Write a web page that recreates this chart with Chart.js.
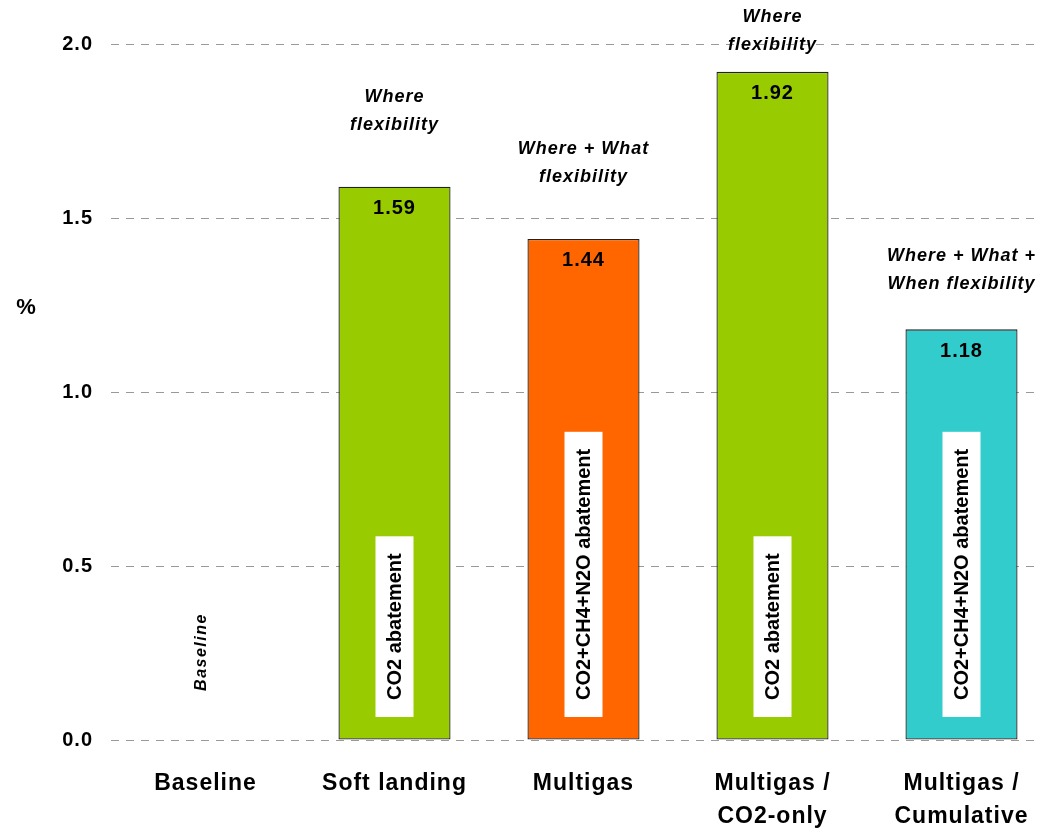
<!DOCTYPE html>
<html>
<head>
<meta charset="utf-8">
<script src="https://cdn.jsdelivr.net/npm/chart.js@4"></script>
<style>
  html, body { margin: 0; padding: 0; background: #fff; overflow: hidden; }
  #wrap { width: 1056px; height: 828px; }
</style>
</head>
<body>
<div id="wrap"><canvas id="chart" width="1056" height="828"></canvas></div>
<script>
// Scenario results (%)
const categories = ['Baseline', 'Soft landing', 'Multigas', ['Multigas /', 'CO2-only'], ['Multigas /', 'Cumulative']];
const values = [0, 1.59, 1.44, 1.92, 1.18];
const barColors = ['rgba(0,0,0,0)', '#99CC00', '#FF6600', '#99CC00', '#33CCCC'];
const yTicks = [0, 0.5, 1.0, 1.5, 2.0];

// Annotations per bar
const notes = [null, ['Where', 'flexibility'], ['Where + What', 'flexibility'], ['Where', 'flexibility'], ['Where + What +', 'When flexibility']];
const inBarLabels = [null, 'CO2 abatement', 'CO2+CH4+N2O abatement', 'CO2 abatement', 'CO2+CH4+N2O abatement'];
const baselineNote = 'Baseline';

// gap (px) from bar top to the second line of the note
const noteGap = [0, 62, 62, 27, 45];

const FONT = '"Liberation Sans", Arial, sans-serif';

const annotate = {
  id: 'annotate',
  beforeDraw(chart) {
    chart.ctx.letterSpacing = '1px';
  },
  afterDatasetsDraw(chart) {
    const ctx = chart.ctx;
    const area = chart.chartArea;
    const meta = chart.getDatasetMeta(0);
    ctx.save();
    ctx.fillStyle = '#000';
    ctx.textAlign = 'center';
    ctx.textBaseline = 'middle';

    meta.data.forEach((bar, i) => {
      if (i === 0) return;
      // value inside top of bar
      ctx.letterSpacing = '1px';
      ctx.font = 'bold 20px ' + FONT;
      ctx.fillText(values[i].toFixed(2), bar.x, bar.y + 22);

      // note above bar
      ctx.font = 'italic bold 18px ' + FONT;
      const l2 = bar.y - noteGap[i];
      ctx.fillText(notes[i][0], bar.x, l2 - 28);
      ctx.fillText(notes[i][1], bar.x, l2);

      // rotated label in white box
      ctx.letterSpacing = '0px';
      ctx.font = 'bold 20px ' + FONT;
      const w = ctx.measureText(inBarLabels[i]).width;
      const len = w + 34;
      const cy = area.bottom - 23 - len / 2;
      ctx.save();
      ctx.translate(bar.x, cy);
      ctx.rotate(-Math.PI / 2);
      ctx.fillStyle = '#fff';
      ctx.fillRect(-len / 2, -19, len, 38);
      ctx.fillStyle = '#000';
      ctx.fillText(inBarLabels[i], 0, 1);
      ctx.restore();
    });

    // baseline tag
    const x0 = chart.scales.x.getPixelForValue(0);
    ctx.save();
    ctx.translate(x0 - 4, area.bottom - 88);
    ctx.rotate(-Math.PI / 2);
    ctx.letterSpacing = '1.5px';
    ctx.font = 'italic bold 16px ' + FONT;
    ctx.fillText(baselineNote, 0, 0);
    ctx.restore();

    // unit label
    ctx.letterSpacing = '0px';
    ctx.font = 'bold 22px ' + FONT;
    ctx.fillText('%', 26, area.top + 264);
    ctx.restore();
  }
};

new Chart(document.getElementById('chart'), {
  type: 'bar',
  data: {
    labels: categories,
    datasets: [{
      data: values,
      backgroundColor: barColors,
      borderColor: values.map((v, i) => i === 0 ? 'rgba(0,0,0,0)' : '#222'),
      borderWidth: values.map((v, i) => i === 0 ? 0 : 1.3),
      borderSkipped: false,
      barPercentage: 0.593,
      categoryPercentage: 1.0
    }]
  },
  options: {
    responsive: false,
    animation: false,
    layout: { padding: { top: 44, left: 0, right: 0, bottom: 0 } },
    plugins: {
      legend: { display: false },
      tooltip: { enabled: false }
    },
    scales: {
      x: {
        grid: { display: false },
        border: { display: false },
        ticks: {
          color: '#000',
          font: { family: FONT, size: 23, weight: 'bold', lineHeight: 1.435 },
          padding: 19,
          maxRotation: 0,
          autoSkip: false
        },
        afterFit(scale) { scale.height = 88; }
      },
      y: {
        min: 0,
        max: 2.0,
        afterBuildTicks(scale) { scale.ticks = yTicks.map(v => ({ value: v })); },
        grid: {
          color: '#999999',
          lineWidth: 1,
          drawTicks: false
        },
        border: { display: false, dash: [8, 7] },
        ticks: {
          color: '#000',
          font: { family: FONT, size: 20, weight: 'bold' },
          padding: 18,
          callback: v => v.toFixed(1)
        },
        afterFit(scale) { scale.width = 111; }
      }
    }
  },
  plugins: [annotate]
});
</script>
</body>
</html>
